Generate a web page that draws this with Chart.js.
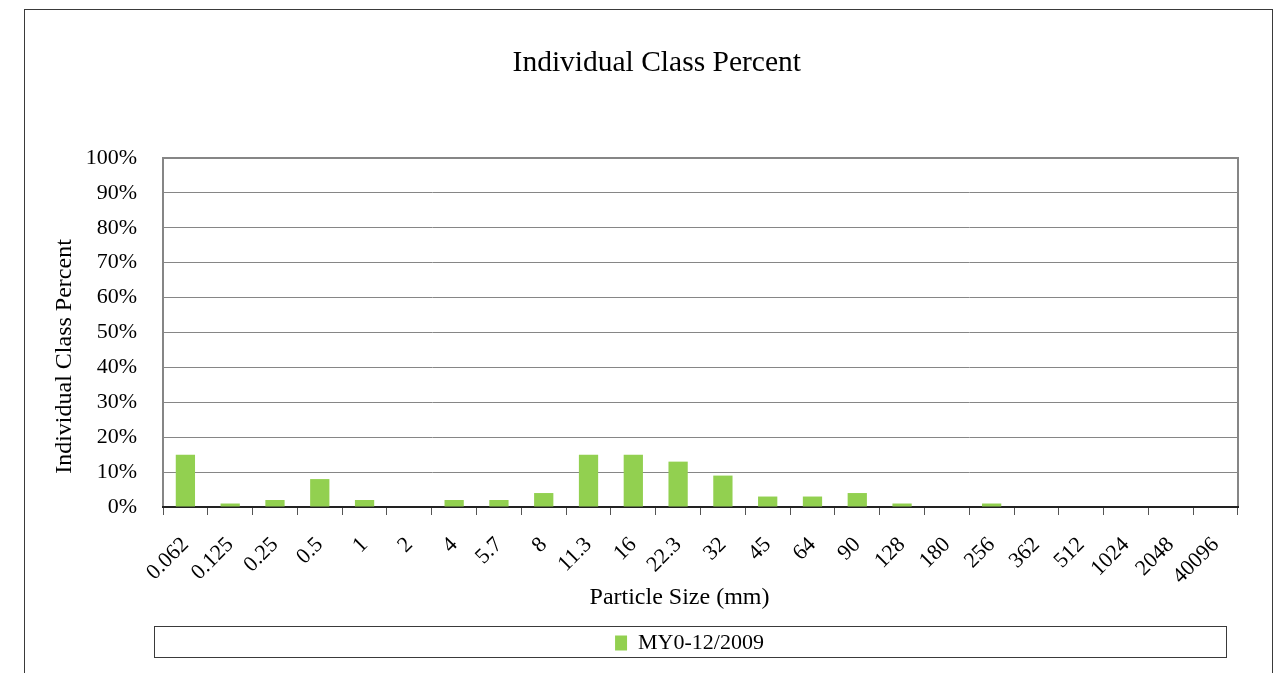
<!DOCTYPE html>
<html>
<head>
<meta charset="utf-8">
<script src="https://cdn.jsdelivr.net/npm/chart.js@4"></script>
<style>
  html, body { margin: 0; padding: 0; background: #fff; overflow: hidden; }
  #wrap { position: relative; width: 1274px; height: 673px; }
  #frame { position: absolute; left: 24px; top: 9px; width: 1247px; height: 700px;
           border: 1px solid #3a3a3a; pointer-events: none; }
</style>
</head>
<body>
<div id="wrap">
  <canvas id="myChart" width="1274" height="673"></canvas>
  <div id="frame"></div>
</div>
<script>
// Individual class percent by particle size

const sizes = ['0.062', '0.125', '0.25', '0.5', '1', '2', '4', '5.7', '8', '11.3', '16', '22.3',
               '32', '45', '64', '90', '128', '180', '256', '362', '512', '1024', '2048', '40096'];
const percents = [15, 1, 2, 8, 2, 0, 2, 2, 4, 15, 15, 13,
                  9, 3, 3, 4, 1, 0, 1, 0, 0, 0, 0, 0];
const seriesName = 'MY0-12/2009';

const serif = 'Liberation Serif';

// gray plot frame + black base line
const plotFrame = {
  id: 'plotFrame',
  beforeDatasetsDraw(chart) {
    const a = chart.chartArea, ctx = chart.ctx;
    ctx.save();
    ctx.strokeStyle = '#868686';
    ctx.lineWidth = 2;
    ctx.strokeRect(a.left, a.top, a.right - a.left, a.bottom - a.top);
    ctx.strokeStyle = '#000';
    ctx.lineWidth = 1.5;
    ctx.beginPath();
    ctx.moveTo(a.left - 1, a.bottom);
    ctx.lineTo(a.right + 1, a.bottom);
    ctx.stroke();
    ctx.restore();
  }
};

// box round the legend
const legendBox = {
  id: 'legendBox',
  afterDraw(chart) {
    const lg = chart.legend, ctx = chart.ctx;
    ctx.save();
    ctx.strokeStyle = '#3a3a3a';
    ctx.lineWidth = 1;
    ctx.strokeRect(lg.left - 8.5, lg.top - 5.5, lg.width - 3, 31);
    ctx.restore();
  }
};

const data = {
  labels: sizes,
  datasets: [{
    label: seriesName,
    data: percents,
    backgroundColor: '#92D050',
    borderWidth: 0,
    barPercentage: 0.43,
    categoryPercentage: 1
  }]
};

const config = {
  type: 'bar',
  data: data,
  options: {
    responsive: false,
    animation: false,
    layout: { padding: { left: 46, right: 36, top: 0, bottom: 9 } },
    plugins: {
      title: {
        display: true,
        // leading spaces nudge the title right, as in the original
        text: '    Individual Class Percent',
        color: '#000',
        font: { family: serif, size: 29.5, weight: 'normal' },
        padding: { top: 46, bottom: 76.6 }
      },
      legend: {
        position: 'bottom',
        fullSize: false,
        labels: {
          color: '#000',
          font: { family: serif, size: 22 },
          boxWidth: 12,
          boxHeight: 15,
          padding: 0,
          generateLabels(chart) {
            const items = Chart.defaults.plugins.legend.labels.generateLabels(chart);
            items.forEach(it => { it.text = it.text + '    '; });
            return items;
          }
        }
      },
      tooltip: { enabled: false }
    },
    scales: {
      x: {
        grid: { drawOnChartArea: false, drawTicks: true, tickLength: 8, color: '#555', offset: true },
        border: { display: false },
        ticks: {
          color: '#000',
          font: { family: serif, size: 22 },
          minRotation: 45, maxRotation: 45,
          autoSkip: false,
          padding: 17
        },
        title: {
          display: true,
          // trailing spaces nudge the centred title left, as in the original
          text: 'Particle Size (mm)       ',
          color: '#000',
          font: { family: serif, size: 24 },
          padding: { top: 4, bottom: 19.6 }
        },
        afterFit(scale) { scale.height = 125; }
      },
      y: {
        min: 0, max: 100,
        grid: { color: '#868686', drawTicks: false },
        border: { display: true, color: '#868686', width: 2 },
        ticks: {
          stepSize: 10,
          color: '#000',
          font: { family: serif, size: 22 },
          padding: 26,
          callback: v => v + '%'
        },
        title: {
          display: true,
          // trailing spaces push the rotated title down a little
          text: 'Individual Class Percent        ',
          color: '#000',
          font: { family: serif, size: 24 },
          padding: { top: 4, bottom: 4 }
        },
        afterFit(scale) { scale.width = 117; }
      }
    }
  },
  plugins: [plotFrame, legendBox]
};

const myChart = new Chart(document.getElementById('myChart'), config);
</script>
</body>
</html>
